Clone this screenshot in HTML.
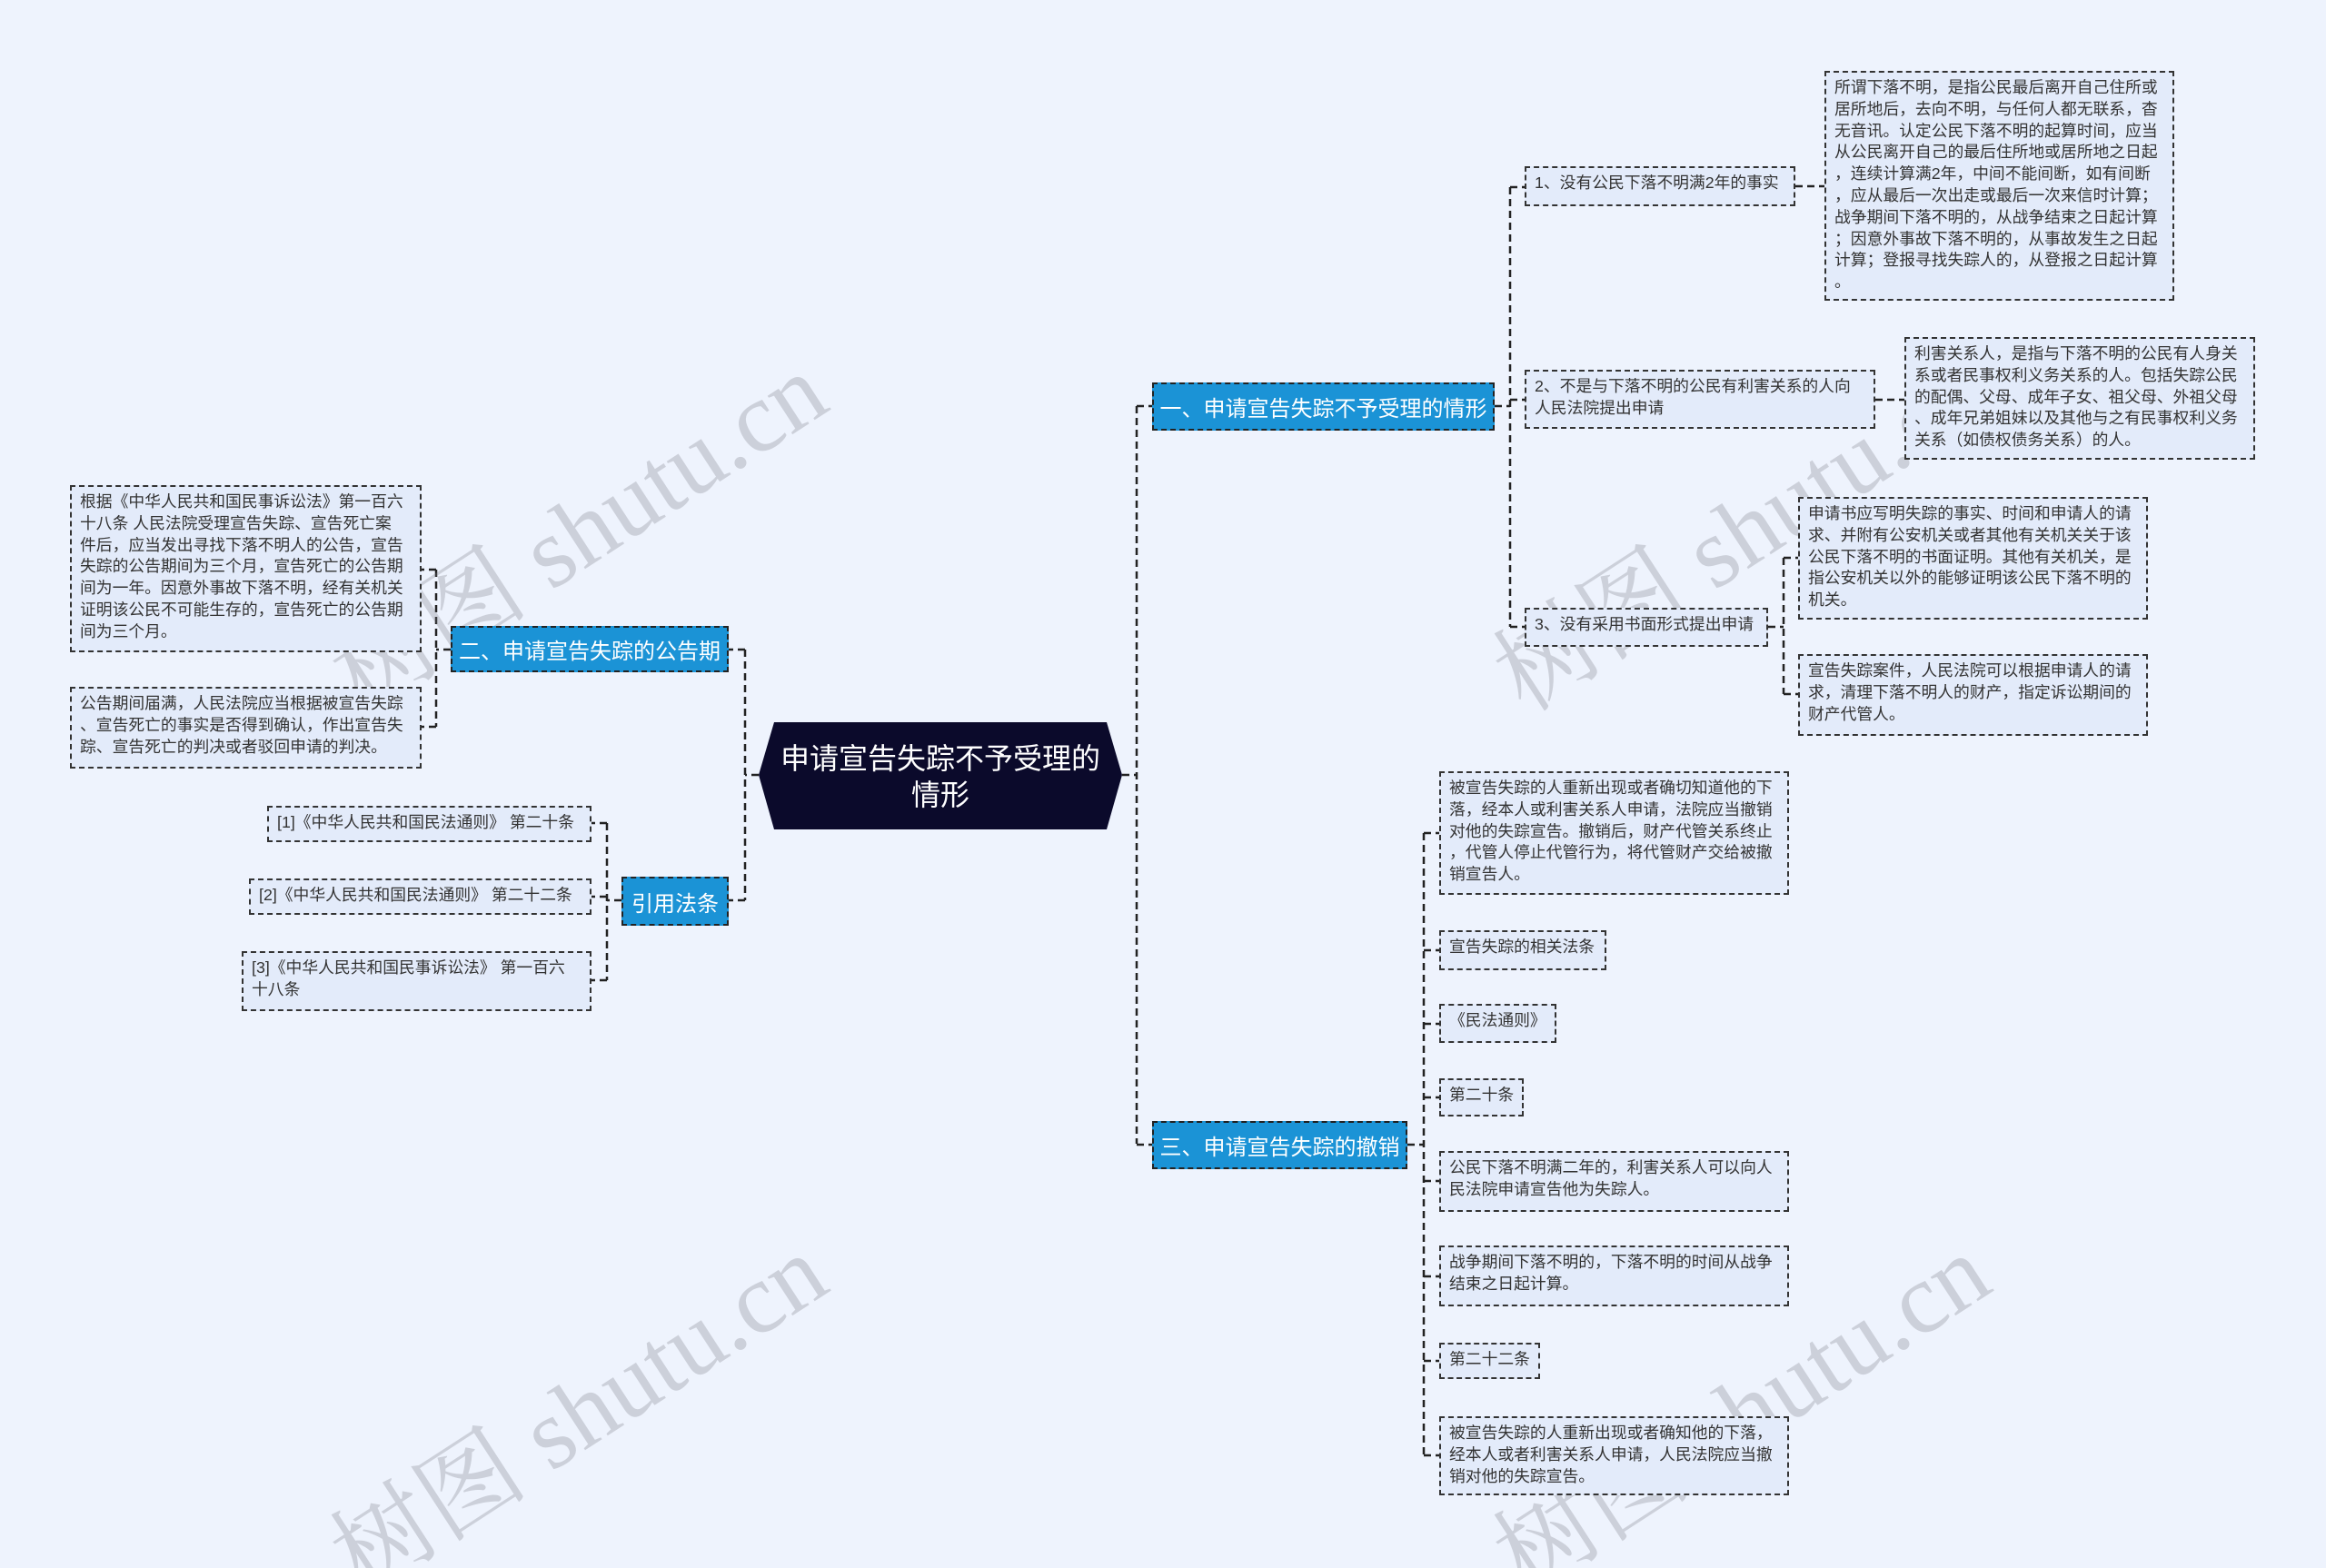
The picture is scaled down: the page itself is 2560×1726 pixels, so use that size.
<!DOCTYPE html>
<html><head><meta charset="utf-8"><style>
html,body{margin:0;padding:0;width:2560px;height:1726px;overflow:hidden;background:#eef3fd;}
#w{position:relative;width:2560px;height:1726px;overflow:hidden;background:#eef3fd;font-family:"Liberation Sans","Noto Sans CJK SC",sans-serif;}
.b{position:absolute;box-sizing:border-box;border:2px dashed #333;background:#e3ebfa;color:#333;font-size:17.8px;line-height:23.8px;padding:5px 9px;white-space:nowrap;}
.m{position:absolute;box-sizing:border-box;border:2px dashed #222;background:#1b93d6;color:#fff;font-size:24px;display:flex;align-items:center;justify-content:center;white-space:nowrap;}
.wm{position:absolute;color:rgba(120,120,130,0.28);font-family:"Liberation Serif","Noto Serif CJK SC",serif;font-size:110px;transform:rotate(-33deg);white-space:nowrap;transform-origin:left top;}
svg{position:absolute;left:0;top:0}
</style></head><body><div id="w">
<svg width="2560" height="1726"><g stroke="#222" stroke-width="2.5" stroke-dasharray="8,5" fill="none">
<path d="M1235 853H1251M1251 447V1259M1251 447H1268M1251 1260H1268"/>
<path d="M1645 447H1662M1662 206V690M1662 206H1678M1662 440H1678M1662 690H1678"/>
<path d="M1976 205H2008M2064 440H2096M1946 690H1963M1963 614V764M1963 614H1979M1963 764H1979"/>
<path d="M1549 1260H1567M1567 917V1602M1567 917H1584M1567 1046H1584M1567 1127H1584M1567 1208H1584M1567 1300H1584M1567 1405H1584M1567 1498H1584M1567 1602H1584"/>
<path d="M835 853H820M820 715V991M820 715H802M820 991H802"/>
<path d="M496 715H480M480 627V800M480 627H464M480 800H464"/>
<path d="M684 991H668M668 906V1079M668 906H651M668 987H651M668 1079H651"/>
</g></svg>
<div class="wm" style="left:330px;top:680px">树图 shutu.cn</div>
<div class="wm" style="left:330px;top:1650px">树图 shutu.cn</div>
<div class="wm" style="left:1610px;top:680px">树图 shutu.cn</div>
<div class="wm" style="left:1610px;top:1650px">树图 shutu.cn</div>

<svg width="2560" height="1726"><polygon points="835,853 852,795 1218,795 1235,853 1218,913 852,913" fill="#0b0a2b"/>
<text x="1035" y="846" fill="#fff" font-size="32" text-anchor="middle" font-family="Liberation Sans,Noto Sans CJK SC,sans-serif">申请宣告失踪不予受理的</text>
<text x="1035" y="886" fill="#fff" font-size="32" text-anchor="middle" font-family="Liberation Sans,Noto Sans CJK SC,sans-serif">情形</text></svg>

<div class="m" style="left:1268px;top:421px;width:377px;height:53px">一、申请宣告失踪不予受理的情形</div>
<div class="m" style="left:496px;top:689px;width:306px;height:51px">二、申请宣告失踪的公告期</div>
<div class="m" style="left:684px;top:965px;width:118px;height:54px">引用法条</div>
<div class="m" style="left:1268px;top:1234px;width:281px;height:53px">三、申请宣告失踪的撤销</div>

<div class="b" style="left:1678px;top:183px;width:298px;height:44px">1、没有公民下落不明满2年的事实</div>
<div class="b" style="left:2008px;top:78px;width:385px;height:253px">所谓下落不明，是指公民最后离开自己住所或<br>居所地后，去向不明，与任何人都无联系，杳<br>无音讯。认定公民下落不明的起算时间，应当<br>从公民离开自己的最后住所地或居所地之日起<br>，连续计算满2年，中间不能间断，如有间断<br>，应从最后一次出走或最后一次来信时计算；<br>战争期间下落不明的，从战争结束之日起计算<br>；因意外事故下落不明的，从事故发生之日起<br>计算；登报寻找失踪人的，从登报之日起计算<br>。</div>
<div class="b" style="left:1678px;top:407px;width:386px;height:65px">2、不是与下落不明的公民有利害关系的人向<br>人民法院提出申请</div>
<div class="b" style="left:2096px;top:371px;width:386px;height:135px">利害关系人，是指与下落不明的公民有人身关<br>系或者民事权利义务关系的人。包括失踪公民<br>的配偶、父母、成年子女、祖父母、外祖父母<br>、成年兄弟姐妹以及其他与之有民事权利义务<br>关系（如债权债务关系）的人。</div>
<div class="b" style="left:1678px;top:669px;width:268px;height:43px">3、没有采用书面形式提出申请</div>
<div class="b" style="left:1979px;top:547px;width:385px;height:135px">申请书应写明失踪的事实、时间和申请人的请<br>求、并附有公安机关或者其他有关机关关于该<br>公民下落不明的书面证明。其他有关机关，是<br>指公安机关以外的能够证明该公民下落不明的<br>机关。</div>
<div class="b" style="left:1979px;top:720px;width:385px;height:90px">宣告失踪案件，人民法院可以根据申请人的请<br>求，清理下落不明人的财产，指定诉讼期间的<br>财产代管人。</div>

<div class="b" style="left:77px;top:534px;width:387px;height:184px">根据《中华人民共和国民事诉讼法》第一百六<br>十八条 人民法院受理宣告失踪、宣告死亡案<br>件后，应当发出寻找下落不明人的公告，宣告<br>失踪的公告期间为三个月，宣告死亡的公告期<br>间为一年。因意外事故下落不明，经有关机关<br>证明该公民不可能生存的，宣告死亡的公告期<br>间为三个月。</div>
<div class="b" style="left:77px;top:756px;width:387px;height:90px">公告期间届满，人民法院应当根据被宣告失踪<br>、宣告死亡的事实是否得到确认，作出宣告失<br>踪、宣告死亡的判决或者驳回申请的判决。</div>
<div class="b" style="left:294px;top:887px;width:357px;height:40px">[1]《中华人民共和国民法通则》 第二十条</div>
<div class="b" style="left:274px;top:967px;width:377px;height:40px">[2]《中华人民共和国民法通则》 第二十二条</div>
<div class="b" style="left:266px;top:1047px;width:385px;height:66px">[3]《中华人民共和国民事诉讼法》 第一百六<br>十八条</div>

<div class="b" style="left:1584px;top:849px;width:385px;height:136px">被宣告失踪的人重新出现或者确切知道他的下<br>落，经本人或利害关系人申请，法院应当撤销<br>对他的失踪宣告。撤销后，财产代管关系终止<br>，代管人停止代管行为，将代管财产交给被撤<br>销宣告人。</div>
<div class="b" style="left:1584px;top:1024px;width:184px;height:44px">宣告失踪的相关法条</div>
<div class="b" style="left:1584px;top:1105px;width:129px;height:43px">《民法通则》</div>
<div class="b" style="left:1584px;top:1187px;width:93px;height:42px">第二十条</div>
<div class="b" style="left:1584px;top:1267px;width:385px;height:67px">公民下落不明满二年的，利害关系人可以向人<br>民法院申请宣告他为失踪人。</div>
<div class="b" style="left:1584px;top:1371px;width:385px;height:67px">战争期间下落不明的，下落不明的时间从战争<br>结束之日起计算。</div>
<div class="b" style="left:1584px;top:1478px;width:111px;height:40px">第二十二条</div>
<div class="b" style="left:1584px;top:1559px;width:385px;height:87px">被宣告失踪的人重新出现或者确知他的下落，<br>经本人或者利害关系人申请，人民法院应当撤<br>销对他的失踪宣告。</div>
</div></body></html>
